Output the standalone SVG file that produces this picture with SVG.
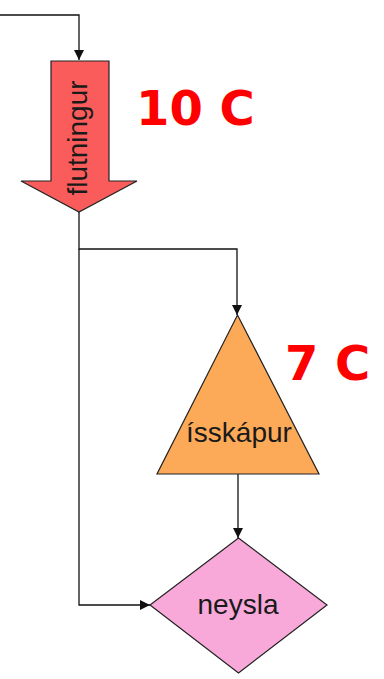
<svg xmlns="http://www.w3.org/2000/svg" width="384" height="679" viewBox="0 0 384 679">
<style>
.ln{fill:none;stroke:#111;stroke-width:1.3}
.sh{stroke:#222;stroke-width:1.2}
.lbl{font-family:"Liberation Sans",Arial,sans-serif;font-size:28px;fill:#1a1a1a;text-anchor:middle}
.tmp{font-family:"DejaVu Sans",Verdana,sans-serif;font-weight:bold;font-size:48px;fill:#ff0000}
</style>
<defs>
<marker id="ah" viewBox="0 0 10 10" refX="10" refY="5" markerWidth="10" markerHeight="12" markerUnits="userSpaceOnUse" orient="auto">
<path d="M0,0 L10,5 L0,10 Z" fill="#111"/>
</marker>
</defs>
<rect width="384" height="679" fill="#fff"/>
<g id="connectors">
<polyline class="ln" points="0,15 79,15 79,60" marker-end="url(#ah)"/>
<polyline class="ln" points="79,212 79,249 237,249 237,315" marker-end="url(#ah)"/>
<polyline class="ln" points="79,249 79,605 150,605" marker-end="url(#ah)"/>
<line class="ln" x1="238" y1="474" x2="238" y2="538" marker-end="url(#ah)"/>
</g>
<g id="flutningur">
<polygon class="sh" fill="#fa5c5c" points="51,61 109,61 109,181 137,181 79,212 21,181 51,181"/>
<text class="lbl" transform="translate(87,138) rotate(-90)">flutningur</text>
</g>
<g id="isskapur">
<polygon class="sh" fill="#fdaa58" points="237.5,315 319,474 157,474"/>
<text class="lbl" x="239" y="442">ísskápur</text>
</g>
<g id="neysla">
<polygon class="sh" fill="#f8a9d9" points="238.5,538 327,605 238.5,673 150,605"/>
<text class="lbl" x="238" y="614">neysla</text>
</g>
<g id="labels">
<text class="tmp" x="136" y="125">10 C</text>
<text class="tmp" x="285" y="380">7 C</text>
</g>
</svg>
